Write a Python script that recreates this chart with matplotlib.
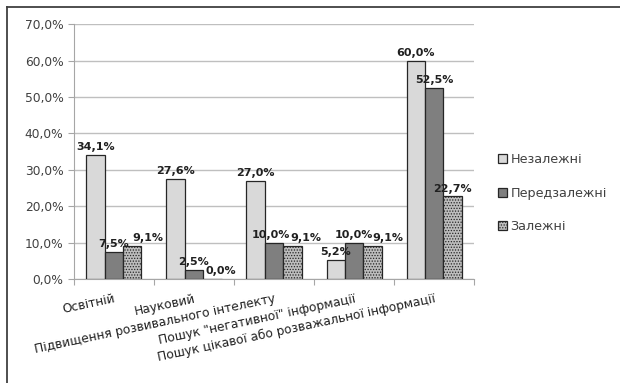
import numpy as np
import matplotlib.pyplot as plt
from matplotlib.lines import Line2D
from matplotlib.ticker import FuncFormatter

categories = ['Освітній', 'Науковий', 'Підвищення розвивального інтелекту',
              'Пошук "негативної" інформації', 'Пошук цікавої або розважальної інформації']
series_names = ['Незалежні', 'Передзалежні', 'Залежні']
nezalezhni = [34.1, 27.6, 27.0, 5.2, 60.0]
peredzalezhni = [7.5, 2.5, 10.0, 10.0, 52.5]
zalezhni = [9.1, 0.0, 9.1, 9.1, 22.7]

plt.rcParams['hatch.color'] = '#5a5a5a'
plt.rcParams['hatch.linewidth'] = 0.6

fig = plt.figure(figsize=(6.2, 3.83), dpi=100)
ax = fig.add_axes([0.119, 0.2715, 0.646, 0.6655])

# chart-area frame: only the top and left edges are visible in the scan
fig.add_artist(Line2D([0.011, 1.01], [0.981, 0.981], transform=fig.transFigure,
                      color='#404040', linewidth=1.3))
fig.add_artist(Line2D([0.011, 0.011], [-0.01, 0.981], transform=fig.transFigure,
                      color='#404040', linewidth=1.3))

x = np.arange(len(categories))
w = 0.23
styles = [dict(color='#d9d9d9', hatch=None),
          dict(color='#7f7f7f', hatch=None),
          dict(color='#bdbdbd', hatch='......')]
# Excel nudged some labels sideways so they don't collide
label_dx = [[0] * 5, [0, 0, -2, 0, 0], [11, 6, 10, 11, 0]]
for i, (vals, st) in enumerate(zip([nezalezhni, peredzalezhni, zalezhni], styles)):
    bars = ax.bar(x + (i - 1) * w, vals, w, color=st['color'], hatch=st['hatch'],
                  edgecolor='#262626', linewidth=0.9, label=series_names[i], zorder=3)
    for b, v, dx in zip(bars, vals, label_dx[i]):
        ax.annotate(f'{v:.1f}%'.replace('.', ','), (b.get_x() + b.get_width() / 2, v),
                    xytext=(dx, 2), textcoords='offset points',
                    ha='center', va='bottom', fontsize=8, fontweight='bold',
                    color='#202020', zorder=4)

ax.set_ylim(0, 70)
ax.set_xlim(-0.5, len(categories) - 0.5)
ax.set_yticks(np.arange(0, 71, 10))
ax.yaxis.set_major_formatter(FuncFormatter(lambda v, p: f'{v:.1f}%'.replace('.', ',')))
ax.grid(axis='y', color='#bfbfbf', linewidth=1.0, zorder=0)
ax.set_axisbelow(True)
for s in ['top', 'right']:
    ax.spines[s].set_visible(False)
ax.spines['left'].set_color('#a6a6a6')
ax.spines['bottom'].set_color('#a6a6a6')
ax.tick_params(axis='y', labelsize=8.8, colors='#404040', length=4, color='#a6a6a6')

ax.set_xticks(np.arange(-0.5, len(categories), 1.0))
ax.set_xticklabels([])
ax.tick_params(axis='x', length=4, color='#a6a6a6')
for xi, lab in zip(x, categories):
    ax.text(xi, -3.6, lab, rotation=12, ha='right', va='top', rotation_mode='anchor',
            fontsize=8.8, color='#202020', clip_on=False)

leg = ax.legend(loc='center left', bbox_to_anchor=(1.03, 0.337), frameon=False, fontsize=9.2,
                handlelength=0.7, handleheight=0.7, handletextpad=0.3, labelspacing=1.6)
for t in leg.get_texts():
    t.set_color('#404040')

fig.savefig('out.png', dpi=100)
